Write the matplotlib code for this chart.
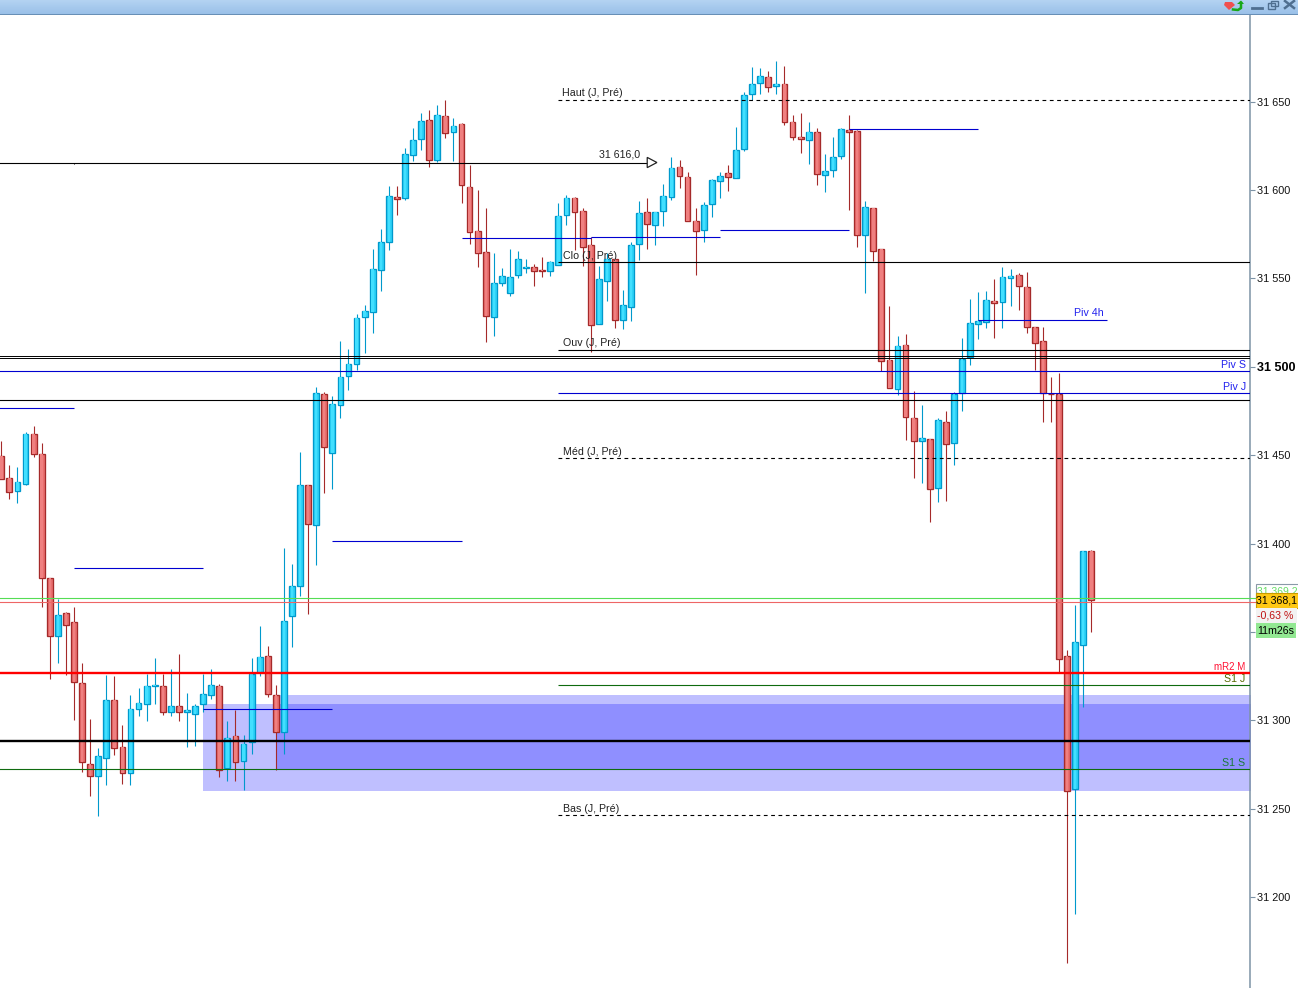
import numpy as np
import matplotlib
matplotlib.use("Agg")
import matplotlib.pyplot as plt
from matplotlib.patches import Rectangle, Polygon
from matplotlib.ticker import FuncFormatter

plt.rcParams['font.family'] = ['Liberation Sans', 'DejaVu Sans']

# Candles
opens = [31449.5, 31437.4, 31429.5, 31434.0, 31461.8, 31450.5, 31380.3, 31348.0, 31360.5, 31355.4,
         31320.9, 31275.6, 31268.8, 31278.5, 31311.3, 31284.7, 31270.0, 31306.2, 31309.0, 31319.2,
         31319.2, 31304.5, 31307.9, 31304.5, 31303.4, 31309.0, 31314.1, 31319.2, 31272.8, 31290.9,
         31276.8, 31287.5, 31327.1, 31336.2, 31314.1, 31293.2, 31358.8, 31375.8, 31432.9, 31410.3,
         31484.4, 31451.0, 31478.2, 31494.6, 31501.4, 31528.0, 31530.8, 31554.6, 31570.4, 31595.9,
         31595.3, 31619.6, 31628.7, 31639.4, 31616.8, 31641.7, 31632.6, 31637.2, 31601.5, 31576.6,
         31564.8, 31528.0, 31547.2, 31541.6, 31551.7, 31555.9, 31556.3, 31554.6, 31554.0, 31557.4,
         31585.7, 31595.3, 31587.9, 31568.7, 31524.0, 31548.3, 31560.8, 31526.3, 31533.6, 31569.3,
         31587.4, 31580.0, 31588.0, 31595.9, 31612.9, 31607.2, 31582.3, 31577.2, 31591.9, 31604.9,
         31609.5, 31606.6, 31623.1, 31654.2, 31660.4, 31663.8, 31658.7, 31659.8, 31638.3, 31629.9,
         31628.1, 31632.7, 31608.5, 31611.2, 31619.1, 31633.8, 31633.2, 31574.4, 31589.7, 31566.5,
         31503.7, 31487.3, 31512.2, 31470.9, 31457.8, 31459.0, 31431.3, 31468.6, 31456.7, 31485.0,
         31505.4, 31524.0, 31525.2, 31537.1, 31536.5, 31550.1, 31551.8, 31545.0, 31522.3, 31514.4,
         31484.8, 31484.4, 31336.2, 31261.0, 31342.4, 31395.6]
highs = [31458.0, 31444.4, 31443.3, 31463.1, 31466.5, 31456.9, 31380.3, 31368.6, 31361.3, 31364.1,
         31332.4, 31300.7, 31284.3, 31325.6, 31325.0, 31297.3, 31314.3, 31318.2, 31326.5, 31335.2,
         31326.5, 31329.0, 31337.5, 31315.4, 31309.2, 31326.5, 31329.0, 31320.5, 31299.6, 31305.8,
         31291.7, 31335.2, 31353.3, 31342.0, 31319.9, 31397.5, 31388.4, 31451.8, 31432.9, 31488.8,
         31485.9, 31483.5, 31514.6, 31510.1, 31529.9, 31535.0, 31566.6, 31578.0, 31602.3, 31602.3,
         31623.6, 31635.1, 31643.6, 31645.3, 31648.1, 31650.9, 31640.6, 31637.7, 31614.2, 31600.0,
         31589.8, 31564.2, 31555.7, 31566.4, 31565.3, 31560.8, 31558.2, 31561.9, 31559.7, 31592.7,
         31597.0, 31595.9, 31589.8, 31573.6, 31557.2, 31564.2, 31560.8, 31543.4, 31570.4, 31593.8,
         31595.5, 31587.4, 31603.4, 31618.7, 31617.0, 31610.2, 31589.9, 31593.1, 31606.3, 31610.2,
         31614.0, 31635.7, 31655.3, 31669.6, 31669.1, 31667.4, 31673.0, 31670.2, 31642.5, 31643.6,
         31638.5, 31635.1, 31620.4, 31630.0, 31635.1, 31642.5, 31633.8, 31593.8, 31589.7, 31566.5,
         31534.4, 31517.4, 31518.6, 31486.3, 31478.4, 31459.0, 31471.0, 31474.8, 31485.6, 31516.3,
         31538.2, 31542.3, 31542.9, 31549.7, 31556.3, 31555.3, 31553.1, 31553.7, 31522.3, 31522.5,
         31494.2, 31496.5, 31339.6, 31365.3, 31395.6, 31396.4]
lows = [31436.3, 31425.4, 31423.1, 31433.1, 31449.1, 31364.3, 31323.5, 31332.6, 31325.6, 31300.3,
        31270.9, 31257.3, 31246.0, 31263.6, 31280.5, 31264.1, 31263.6, 31302.6, 31299.8, 31309.4,
        31303.2, 31302.6, 31299.8, 31285.1, 31285.6, 31304.9, 31312.2, 31268.1, 31265.8, 31265.8,
        31260.7, 31281.1, 31325.2, 31313.3, 31272.2, 31281.1, 31341.6, 31370.5, 31360.3, 31388.0,
        31428.8, 31431.0, 31471.0, 31486.9, 31498.4, 31507.6, 31518.9, 31543.1, 31565.9, 31586.1,
        31594.6, 31616.6, 31622.7, 31613.2, 31615.9, 31629.6, 31616.6, 31592.9, 31569.7, 31556.6,
        31514.2, 31517.6, 31545.9, 31540.2, 31550.4, 31553.2, 31545.9, 31551.0, 31551.6, 31557.4,
        31580.4, 31566.3, 31557.2, 31508.2, 31524.0, 31537.4, 31522.1, 31521.6, 31526.1, 31560.4,
        31566.8, 31569.1, 31579.9, 31594.6, 31601.4, 31582.3, 31552.1, 31570.8, 31585.0, 31595.7,
        31599.7, 31606.6, 31622.3, 31651.0, 31654.6, 31655.3, 31654.6, 31637.0, 31628.5, 31621.2,
        31614.8, 31603.0, 31599.1, 31607.6, 31617.8, 31588.9, 31568.0, 31541.9, 31560.1, 31497.8,
        31487.8, 31484.2, 31458.6, 31437.1, 31434.3, 31412.2, 31423.5, 31424.1, 31444.5, 31475.0,
        31501.0, 31515.7, 31522.0, 31516.3, 31522.0, 31534.4, 31532.2, 31519.1, 31498.2, 31468.8,
        31468.8, 31327.5, 31162.7, 31190.4, 31307.7, 31350.2]
closes = [31436.3, 31429.0, 31434.6, 31461.8, 31450.5, 31380.3, 31347.5, 31359.4, 31353.7, 31321.5,
          31276.2, 31268.3, 31279.6, 31311.3, 31284.1, 31270.5, 31306.7, 31309.6, 31319.2, 31319.8,
          31304.5, 31308.4, 31305.0, 31305.6, 31308.4, 31314.7, 31319.8, 31272.2, 31289.8, 31276.2,
          31286.9, 31326.5, 31335.6, 31314.7, 31293.2, 31356.0, 31376.3, 31432.9, 31410.9, 31485.0,
          31454.4, 31478.8, 31494.1, 31501.4, 31527.4, 31531.4, 31555.1, 31570.4, 31596.4, 31594.7,
          31620.2, 31628.1, 31638.9, 31616.8, 31642.3, 31632.1, 31636.0, 31602.7, 31576.1, 31564.2,
          31528.6, 31547.2, 31551.2, 31550.6, 31560.8, 31556.3, 31554.0, 31554.4, 31559.1, 31585.1,
          31595.3, 31587.4, 31567.6, 31523.4, 31549.5, 31560.8, 31526.3, 31534.8, 31568.7, 31586.8,
          31580.6, 31587.4, 31596.4, 31612.3, 31607.8, 31582.3, 31576.7, 31591.4, 31605.5, 31607.8,
          31607.2, 31622.5, 31653.6, 31659.8, 31664.4, 31658.1, 31659.8, 31638.3, 31629.9, 31628.7,
          31632.7, 31608.9, 31610.6, 31618.5, 31634.4, 31632.7, 31574.4, 31590.2, 31565.3, 31503.1,
          31487.8, 31511.6, 31471.4, 31457.8, 31459.5, 31430.7, 31469.7, 31456.1, 31484.4, 31504.6,
          31524.6, 31525.7, 31537.6, 31535.9, 31550.6, 31551.2, 31545.5, 31522.3, 31513.3, 31485.0,
          31484.4, 31334.5, 31259.8, 31344.1, 31395.6, 31368.1]

# Levels: price, first candle, colour, line width, style
level_prices = [31615.6, 31506.0, 31504.9, 31497.5, 31481.1, 31326.9, 31288.3, 31272.3,
                31650.7, 31559.3, 31509.3, 31485.0, 31448.4, 31319.8, 31246.4]
level_starts = [-1, -1, -1, -1, -1, -1, -1, -1, 69, 69, 69, 69, 69, 69, 69]
level_colors = ['black', 'black', 'black', '#0000d0', 'black', '#ff0000', 'black', '#0f6b0f',
                'black', 'black', 'black', '#0000d0', 'black', '#0f6b0f', 'black']
level_widths = [0.8, 0.7, 0.7, 0.8, 0.8, 1.7, 1.7, 0.8, 0.8, 0.8, 0.8, 0.8, 0.8, 0.8, 0.8]
level_styles = ['-', '-', '-', '-', '-', '-', '-', '-', '--', '-', '-', '-', '--', '-', '--']

# Short blue pivot segments
pivot_prices = [31476.5, 31386.0, 31306.2, 31401.3, 31572.7, 31573.4, 31577.2, 31634.4, 31526.3]
pivot_starts = [-1, 9, 25, 41, 57, 73, 89, 105, 121]
pivot_ends = [9, 25, 41, 57, 73, 89, 105, 121, 137]

# Zones
zone_starts = [25, 34]
zone_tops = [31309.2, 31314.3]
zone_bottoms = [31260.2, 31271.9]

tick_values = np.arange(31200, 31651, 50)

W, H = 1298, 988
fig = plt.figure(figsize=(W / 100, H / 100), dpi=100, facecolor='white')
ax = fig.add_axes([0, 0, 1250 / W, (H - 15) / H])

# 8.074 px per candle, first candle centre at x=1.3
step = 8.074
ax.set_xlim(-1.3 / step, (1250 - 1.3) / step)
ax.set_ylim(31148.6, 31699.05)

x = np.arange(len(opens))
o, h, l, c = map(np.array, (opens, highs, lows, closes))
down = c < o

for s, t, b in zip(zone_starts, zone_tops, zone_bottoms):
    ax.fill_between([s, 160], b, t, color='#0000ff', alpha=0.25, lw=0, zorder=1)

# wicks then bodies
ax.vlines(x[down], l[down], h[down], color='#a52a2a', lw=0.8, zorder=2)
ax.vlines(x[~down], l[~down], h[~down], color='#0099cc', lw=0.8, zorder=2)
low_body = np.minimum(o, c)
body_h = np.abs(c - o)
ax.bar(x[down], body_h[down], bottom=low_body[down], width=0.72, color='#e96f6f',
       edgecolor='#a52a2a', lw=0.95, zorder=3)
ax.bar(x[~down], body_h[~down], bottom=low_body[~down], width=0.72, color='#2ed3f8',
       edgecolor='#0099cc', lw=0.95, zorder=3)
# lighter strip inside the bodies
ax.bar(x[down], body_h[down], bottom=low_body[down], width=0.3, color='#ef8080', lw=0, zorder=3.5)
ax.bar(x[~down], body_h[~down], bottom=low_body[~down], width=0.3, color='#42dfff', lw=0, zorder=3.5)

for p, s, col, lw, ls in zip(level_prices, level_starts, level_colors, level_widths, level_styles):
    xmax = 80.1 if p == 31615.6 else 155
    line = ax.plot([s, xmax], [p, p], color=col, lw=lw, ls=ls, zorder=4, solid_capstyle='butt')[0]
    if ls == '--':
        line.set_dashes((3.4, 3.2))
ax.hlines(pivot_prices, pivot_starts, pivot_ends, color='#0000d0', lw=0.8, zorder=4)

# current price lines run a little past the axis
ax.plot([-1, 155.3], [31369.0, 31369.0], color='#55dd55', lw=0.8, zorder=4, clip_on=False)
ax.plot([-1, 155.3], [31366.8, 31366.8], color='#ee6666', lw=0.8, zorder=4, clip_on=False)

# arrow on the 31 616 line and small tick
ax.add_patch(Polygon([(80.0, 31618.5), (81.2, 31615.6), (80.0, 31612.7)], closed=True,
                     facecolor='white', edgecolor='#222222', lw=0.9, zorder=5))
ax.vlines(9, 31615.6, 31614.6, color='black', lw=0.7, zorder=5)

# right axis
for side in ('left', 'top', 'bottom'):
    ax.spines[side].set_visible(False)
ax.spines['right'].set_color('#7d93a6')
ax.spines['right'].set_linewidth(1.1)
ax.set_xticks([])
ax.yaxis.tick_right()
ax.set_yticks(tick_values)
ax.yaxis.set_major_formatter(FuncFormatter(lambda v, pos: f"{int(v) // 1000} {int(v) % 1000:03d}"))
ax.tick_params(axis='y', length=3.6, width=0.8, color='#7d93a6', pad=1.5, labelsize=7.8, labelcolor='#111111')
for lab, v in zip(ax.get_yticklabels(), tick_values):
    if v == 31500:
        lab.set_fontweight('bold')
        lab.set_fontsize(9)
        lab.set_color('black')
    if v == 31350:
        lab.set_visible(False)


def label(px, py, s, color='#222222', ha='left', size=7.7, weight='normal', z=10):
    fig.text(px / W, 1 - py / H, s, color=color, ha=ha, va='center', fontsize=size, fontweight=weight, zorder=z)


label(562, 93.5, "Haut (J, Pré)")
label(563, 255.5, "Clo (J, Pré)")
label(563, 343.5, "Ouv (J, Pré)")
label(563, 451.5, "Méd (J, Pré)")
label(563, 808.5, "Bas (J, Pré)")
label(599, 154.5, "31 616,0")
label(1074, 313.5, "Piv 4h", color='#2222ee')
label(1246, 364.5, "Piv S", color='#2222ee', ha='right')
label(1246, 386.5, "Piv J", color='#2222ee', ha='right')
label(1245, 666.5, "mR2 M", color='#ff1133', ha='right', size=7)
label(1245, 678.5, "S1 J", color='#556b00', ha='right')
label(1245, 762.5, "S1 S", color='#1b7a3a', ha='right')


def box(x0, y0, x1, y1, face, edge='none', z=6):
    fig.add_artist(Rectangle((x0 / W, 1 - y1 / H), (x1 - x0) / W, (y1 - y0) / H, transform=fig.transFigure,
                             facecolor=face, edgecolor=edge, lw=0.8, zorder=z))


# price boxes on the axis
box(1255.5, 584, 1300, 600, 'white', edge='#8a9aa8', z=6)
label(1257, 591, "31 369,2", color='#66dd66', size=7.5, z=6.5)
box(1255.5, 593, 1300, 607.5, '#ffc814', edge='#c89a00', z=7)
label(1256.5, 600.5, "31 368,1", color='black', size=7.6, z=7.5)
box(1255.5, 607.5, 1297, 622.5, '#f2f2f2', z=7)
label(1257, 615, "-0,63 %", color='#c01010', z=7.5)
box(1255.5, 623, 1295.5, 638, '#92e892', z=7)
label(1257, 630.5, "11m26s", color='black', z=7.5)

# window title bar
bar = fig.add_axes([0, 1 - 15 / H, 1, 15 / H])
bar.imshow(np.linspace(0, 1, 32).reshape(-1, 1), aspect='auto', extent=(0, W, 15, 0),
           cmap=matplotlib.colors.LinearSegmentedColormap.from_list('t', ['#b4d3f2', '#98bfe8']))
bar.set_xlim(0, W)
bar.set_ylim(15, 0)
bar.axis('off')
bar.plot([0, W], [14.7, 14.7], color='#5f86ad', lw=1.2)
bar.add_patch(Polygon([(1225, 2), (1232, 2), (1235, 5), (1229, 10), (1224, 5)], closed=True, color='#f05050', lw=0))
bar.plot([1233, 1238, 1241, 1241], [9.5, 10, 8, 3], color='#18a818', lw=1.8)
bar.add_patch(Polygon([(1237, 4), (1241, 0.5), (1244, 4)], closed=True, color='#18a818', lw=0))
bar.plot([1252, 1262], [8, 8], color='#4f6f90', lw=2)
bar.add_patch(Rectangle((1268, 3.5), 6.5, 6, facecolor='none', edgecolor='#4f6f90', lw=1))
bar.add_patch(Rectangle((1271, 1), 6.5, 5.5, facecolor='none', edgecolor='#4f6f90', lw=1))
bar.plot([1285, 1294], [1, 8], color='#4f6f90', lw=1.8)
bar.plot([1285, 1294], [8, 1], color='#4f6f90', lw=1.8)

plt.savefig("out.png", dpi=100)
